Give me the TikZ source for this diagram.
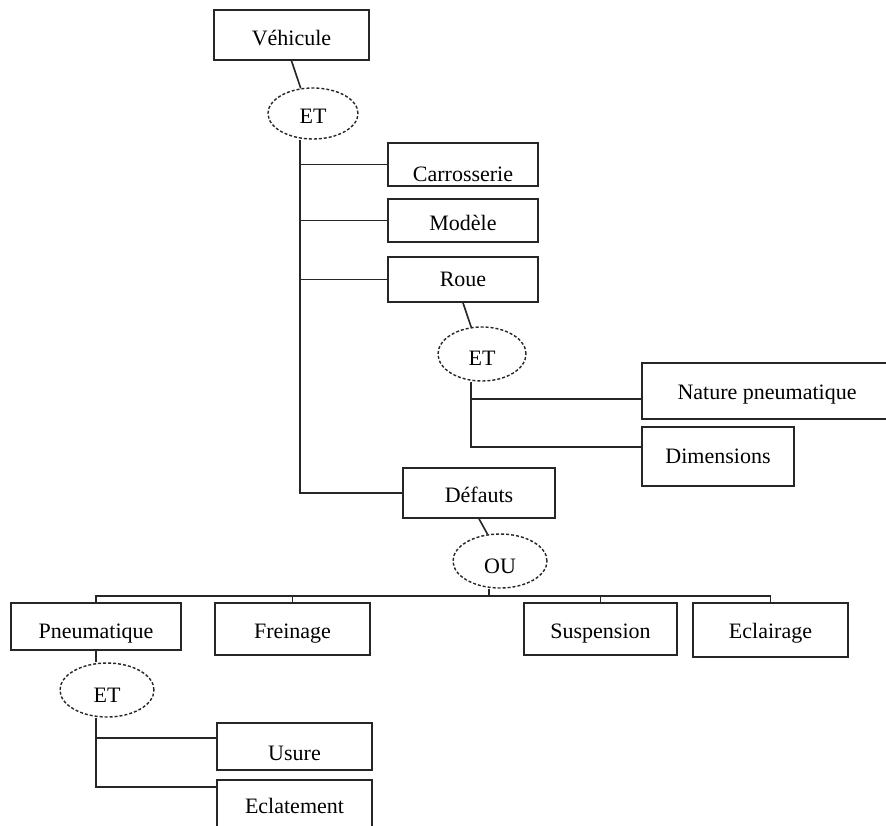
\documentclass[tikz,border=0pt]{standalone}
\usepackage{fontspec}
\setmainfont{Liberation Serif}
\usetikzlibrary{shapes.geometric}
\tikzset{
  ink/.style={draw=black!85, line width=1.6pt},
  rbox/.style={ink, rectangle, inner sep=0pt, font=\fontsize{22}{26}\selectfont},
  gate/.style={draw=black!85, line width=1.4pt, ellipse, dash pattern=on 3pt off 2pt, inner sep=0pt, font=\fontsize{22}{26}\selectfont},
  link/.style={draw=black!85, line width=1.6pt}
}
\begin{document}
\begin{tikzpicture}[x=1pt, y=-1pt]
\useasboundingbox (0,0) rectangle (886,825);
\fill[white] (0,0) rectangle (886,825);
\clip (0,0) rectangle (886,825);

% boxes
\node[rbox, minimum width=155pt, text height=35pt, text depth=15pt] (veh)   at (291.5,35)  {Véhicule};
\node[rbox, minimum width=150pt, text height=38pt, text depth=5pt]  (carr)  at (463,164.5) {Carrosserie};
\node[rbox, minimum width=150pt, text height=31pt, text depth=12pt] (mod)   at (463,220.5) {Modèle};
\node[rbox, minimum width=150pt, text height=29pt, text depth=16pt] (roue)  at (463,279.5) {Roue};
\node[rbox, minimum width=250pt, text height=36pt, text depth=20pt] (nat)   at (767,391)   {Nature pneumatique};
\node[rbox, minimum width=152pt, text height=36pt, text depth=23pt] (dim)   at (718,456.5) {Dimensions};
\node[rbox, minimum width=152pt, text height=34pt, text depth=16pt] (def)   at (479,493)   {Défauts};
\node[rbox, minimum width=170pt, text height=35pt, text depth=12pt] (pneu)  at (96,626.5)  {Pneumatique};
\node[rbox, minimum width=155pt, text height=35pt, text depth=17pt] (frein) at (292.5,629) {Freinage};
\node[rbox, minimum width=153pt, text height=35pt, text depth=17pt] (susp)  at (600.5,629) {Suspension};
\node[rbox, minimum width=155pt, text height=35pt, text depth=19pt] (ecl)   at (770.5,630) {Eclairage};
\node[rbox, minimum width=155pt, text height=37pt, text depth=10pt] (usure) at (294.5,746.5) {Usure};
\node[rbox, minimum width=155pt, text height=33pt, text depth=19pt] (eclat) at (294.5,806) {Eclatement};

% gates
\node[gate, minimum width=90pt, minimum height=51pt, text height=19pt, text depth=0pt] (et1) at (313,113.5) {ET};
\node[gate, minimum width=88pt, minimum height=54pt, text height=22pt, text depth=0pt] (et2) at (482,354)   {ET};
\node[gate, minimum width=94pt, minimum height=54pt, text height=24pt, text depth=0pt] (ou)  at (500,561)   {OU};
\node[gate, minimum width=94pt, minimum height=54pt, text height=24pt, text depth=0pt] (et3) at (107,690)   {ET};

% helper coordinates
\coordinate (t1) at (300,139);
\coordinate (t2) at (471,381);
\coordinate (bar) at (489,596);
\coordinate (natin) at ([yshift=-8pt]nat.west);
\coordinate (dimin) at ([yshift=9.5pt]dim.west);
\coordinate (usin) at ([yshift=8.5pt]usure.west);
\coordinate (ecin) at ([yshift=19pt]eclat.west);

% connectors
\draw[link] (veh.south) -- (et1.116);
\draw[link] (et1.south -| t1) |- (def.west);
\draw[link] (t1 |- carr.west) -- (carr.west);
\draw[link] (t1 |- mod.west) -- (mod.west);
\draw[link] (t1 |- roue.west) -- (roue.west);

\draw[link] (roue.south) -- (et2.112);
\draw[link] (et2.south -| t2) |- (dimin);
\draw[link] (natin -| t2) -- (natin);

\draw[link] (def.south) -- (ou.115);
\draw[link] (ou.south -| bar) -- (bar);
\draw[link] (pneu.north) |- (bar) -| (ecl.north);
\draw[link] (frein.north) -- (frein.north |- bar);
\draw[link] (susp.north) -- (susp.north |- bar);

\draw[link] (pneu.south) -- (pneu.south |- et3.north);
\draw[link] (et3.south -| pneu.south) |- (ecin);
\draw[link] (usin -| pneu.south) -- (usin);
\end{tikzpicture}
\end{document}
